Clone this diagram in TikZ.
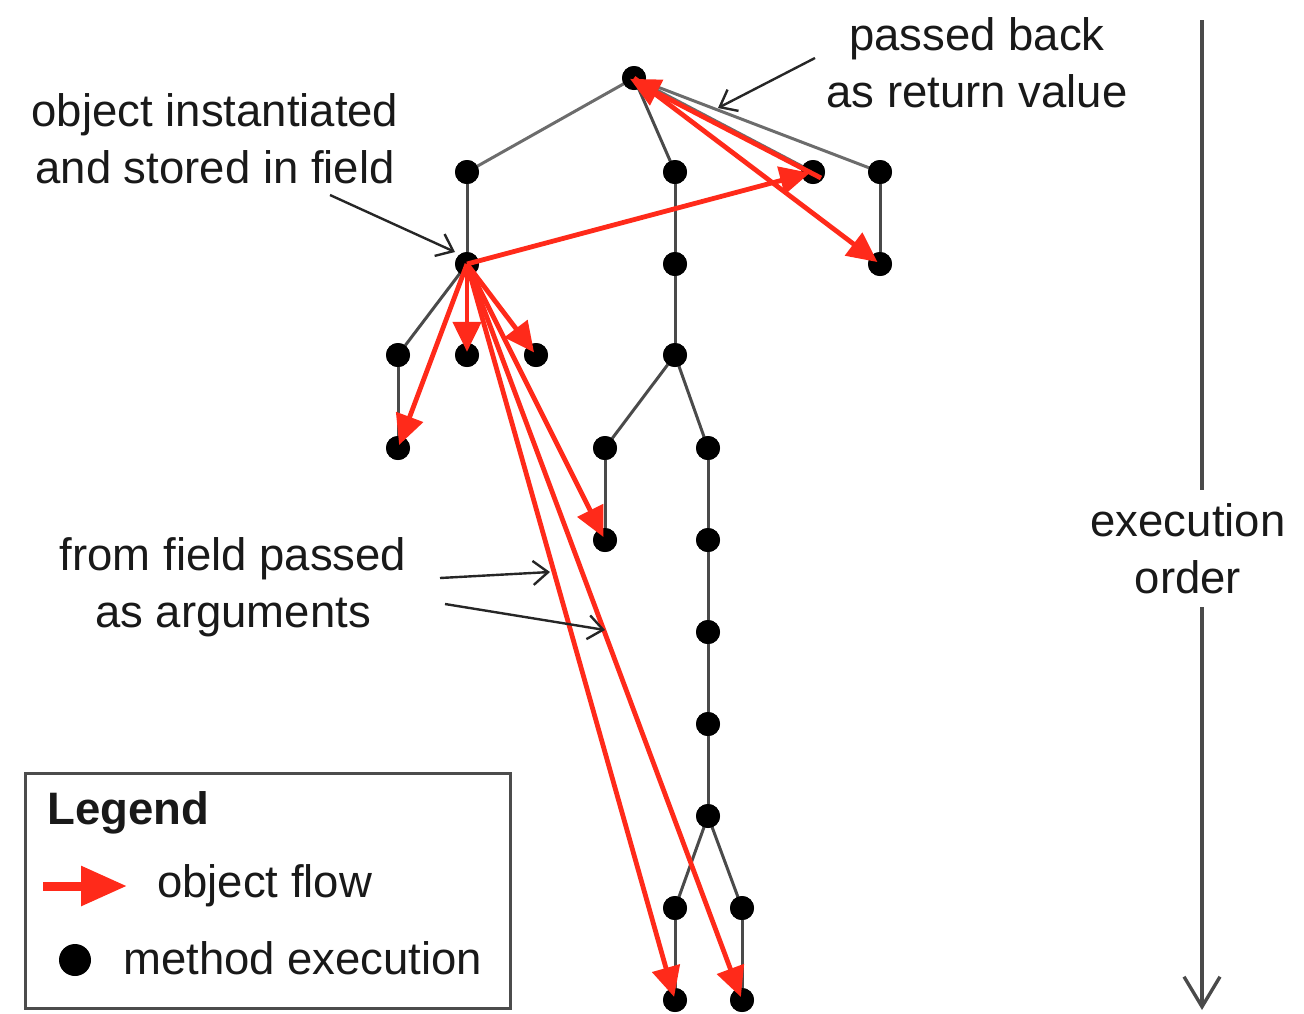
\documentclass[tikz,border=0pt]{standalone}
\usepackage{fontspec}
\setmainfont{Liberation Sans}
\usetikzlibrary{arrows.meta}
\definecolor{flowred}{HTML}{FF2A1A}
\definecolor{edgegray}{HTML}{4A4A4A}
\begin{document}
\begin{tikzpicture}[x=1pt,y=-1pt,
  dot/.style={circle,fill=black,inner sep=0pt,minimum size=24pt},
  edge/.style={draw=edgegray,line width=3pt},
  lightedge/.style={draw=gray!85!black,line width=3pt},
  flow/.style={draw=flowred,line width=4.8pt,-{Triangle[length=30pt,width=28pt]},shorten >=-9pt},
  note/.style={draw=black!85,line width=2.4pt,-{Straight Barb[length=15pt,width=24pt,line width=2.4pt]}},
  txt/.style={font=\fontsize{45.5}{57}\selectfont,align=center,inner sep=0pt,text=black!90}]
\useasboundingbox (0,0) rectangle (1304,1013);

% method executions
\node[dot] (r)   at (634,78) {};
\node[dot] (a)   at (467,172) {};
\node[dot] (b)   at (675,172) {};
\node[dot] (c)   at (813,172) {};
\node[dot] (d)   at (880,172) {};
\node[dot] (a1)  at (467,264) {};
\node[dot] (b1)  at (675,264) {};
\node[dot] (d1)  at (880,264) {};
\node[dot] (a2l) at (398,355) {};
\node[dot] (a2m) at (467,355) {};
\node[dot] (a2r) at (536,355) {};
\node[dot] (b2)  at (675,355) {};
\node[dot] (a3)  at (398,448) {};
\node[dot] (e1)  at (605,448) {};
\node[dot] (f1)  at (708,448) {};
\node[dot] (e2)  at (605,540) {};
\node[dot] (f2)  at (708,540) {};
\node[dot] (f3)  at (708,632) {};
\node[dot] (f4)  at (708,724) {};
\node[dot] (f5)  at (708,816) {};
\node[dot] (g1)  at (675,908) {};
\node[dot] (h1)  at (742,908) {};
\node[dot] (g2)  at (675,1000) {};
\node[dot] (h2)  at (742,1000) {};

% call tree
\draw[lightedge] (r.center) -- (a.center);
\draw[edge] (r.center) -- (b.center);
\draw[lightedge] (r.center) -- (c.center);
\draw[lightedge] (r.center) -- (d.center);
\draw[edge] (a.center) -- (a1.center);
\draw[edge] (b.center) -- (b1.center);
\draw[edge] (d.center) -- (d1.center);
\draw[edge] (a1.center) -- (a2l.center);
\draw[edge] (a1.center) -- (a2m.center);
\draw[edge] (a1.center) -- (a2r.center);
\draw[edge] (a2l.center) -- (a3.center);
\draw[edge] (b1.center) -- (b2.center);
\draw[edge] (b2.center) -- (e1.center);
\draw[edge] (b2.center) -- (f1.center);
\draw[edge] (e1.center) -- (e2.center);
\draw[edge] (f1.center) -- (f2.center) -- (f3.center) -- (f4.center) -- (f5.center);
\draw[edge] (f5.center) -- (g1.center);
\draw[edge] (f5.center) -- (h1.center);
\draw[edge] (g1.center) -- (g2.center);
\draw[edge] (h1.center) -- (h2.center);
% dots above the tree lines
\foreach \n in {r,a,b,c,d,a1,b1,d1,a2l,a2m,a2r,b2,a3,e1,f1,e2,f2,f3,f4,f5,g1,h1,g2,h2}
  \fill (\n) circle (12pt);

% object flow
\draw[flow] ([xshift=8pt,yshift=-6pt]c.center) -- ([xshift=4pt,yshift=-5pt]r.center);
\draw[flow] (r.center) -- (d1);
\draw[flow] (a1.center) -- (c);
\draw[flow] (a1.center) -- (a3);
\draw[flow] (a1.center) -- (a2m);
\draw[flow] (a1.center) -- (a2r);
\draw[flow] (a1.center) -- (e2);
\draw[flow] (a1.center) -- (g2);
\draw[flow] (a1.center) -- (h2);

% annotations
\node[txt] (t1) at (977,63) {passed back\\as return value};
\node[txt] (t2) at (215,139) {object instantiated\\and stored in field};
\node[txt] (t3) at (233,587) {from field passed\\as arguments};
\coordinate (n1s) at (815,58);  \coordinate (n1e) at (718,108);
\coordinate (n2s) at (330,195); \coordinate (n2e) at (455,252);
\coordinate (n3s) at (440,578); \coordinate (n3e) at (550,572);
\coordinate (n4s) at (445,604); \coordinate (n4e) at (605,630);
\draw[note] (n1s) -- (n1e);
\draw[note] (n2s) -- (n2e);
\draw[note] (n3s) -- (n3e);
\draw[note] (n4s) -- (n4e);

% execution order axis
\node[txt] (eo) at (1188,549) {execution\\order};
\coordinate (eotop) at (1202,20);
\coordinate (eobot) at (1202,1010);
\draw[draw=edgegray,line width=3.4pt] (eotop) -- (eotop |- 0,490);
\draw[draw=edgegray,line width=3.4pt,-{Straight Barb[length=30pt,width=36pt,line width=3.4pt]}] (eobot |- 0,607) -- (eobot);

% legend
\node[draw=gray!60!black,line width=3pt,minimum width=485pt,minimum height=235pt,inner sep=0pt] (leg) at (267.5,890.5) {};
\node[txt,anchor=west,font=\fontsize{45.5}{57}\selectfont\bfseries] (lt) at (47,813) {Legend};
\coordinate (la) at (43,886); \coordinate (lb) at (127,886);
\draw[draw=flowred,line width=9pt,-{Triangle[length=46pt,width=38pt]}] (la) -- (lb);
\node[txt,anchor=west] (l1) at (157,886) {object flow};
\node[dot,minimum size=32pt] (ld) at (75,960) {};
\node[txt,anchor=west] (l2) at (123,958) {method execution};
\end{tikzpicture}
\end{document}
